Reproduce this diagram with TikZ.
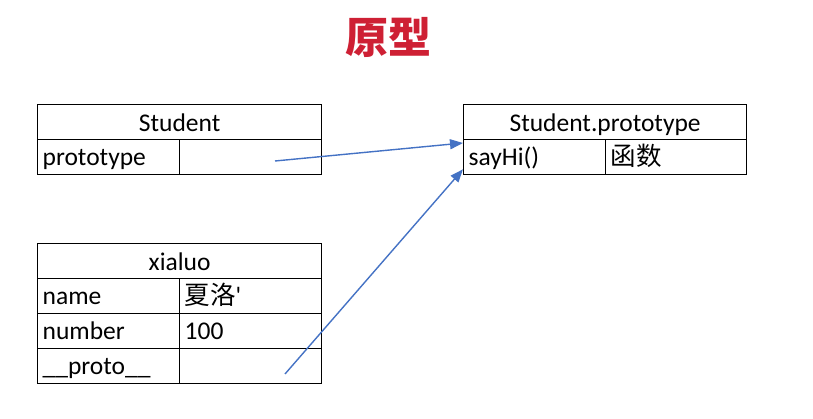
\documentclass[tikz,border=0pt]{standalone}
\usepackage{fontspec}
\setmainfont{Carlito}
\newfontfamily\cjk{Noto Sans CJK SC}
\usetikzlibrary{arrows.meta,calc}
\definecolor{titlered}{RGB}{206,32,52}
\definecolor{arrowblue}{RGB}{68,114,196}
\begin{document}
\begin{tikzpicture}[x=1pt,y=-1pt,
  cell/.style={draw=black,line width=1.3pt,minimum height=35pt,inner ysep=0pt,inner xsep=5pt,
    text height=20pt,text depth=3pt,
    anchor=north west,align=left,font=\fontsize{25.5}{28}\selectfont},
  cellw/.style={cell,minimum width=#1 pt,text width=#1 pt-10pt},
  head/.style={draw=black,line width=1.3pt,minimum height=35pt,inner sep=0pt,
    text height=20pt,text depth=2pt,
    anchor=north west,align=center,minimum width=#1 pt,font=\fontsize{25.5}{28}\selectfont},
  link/.style={draw=arrowblue,line width=1.4pt,-{Triangle[length=13pt,width=10pt]}}]
\useasboundingbox (0,0) rectangle (813,419);
\node[font=\cjk\bfseries\fontsize{43}{46}\selectfont,text=titlered] (title) at (388,37) {原型};
% Student
\node[head=284] (stu) at (37,104) {Student};
\node[cellw=142] (stuk) at (37,139) {prototype};
\node[cellw=142] (stuv) at (179,139) {};
% Student.prototype
\node[head=283] (sp) at (463,104) {Student.prototype};
\node[cellw=142] (spk) at (463,139) {sayHi()};
\node[cellw=141] (spv) at (605,139) {\cjk 函数};
% xialuo
\node[head=284] (xl) at (37,243) {xialuo};
\node[cellw=142] (nk) at (37,278) {name};
\node[cellw=142] (nv) at (179,278) {{\cjk 夏洛}\textquotesingle};
\node[cellw=142] (mk) at (37,313) {number};
\node[cellw=142] (mv) at (179,313) {100};
\node[cellw=142] (pk) at (37,348) {\_\_proto\_\_};
\node[cellw=142] (pv) at (179,348) {};
% connectors
\coordinate (s1) at (275,161);
\coordinate (s2) at (285,374);
\draw[link] (s1) -- ($(spk.north west)+(0,4)$);
\draw[link] (s2) -- ($(spk.south west)+(0,-6)$);
\end{tikzpicture}
\end{document}
